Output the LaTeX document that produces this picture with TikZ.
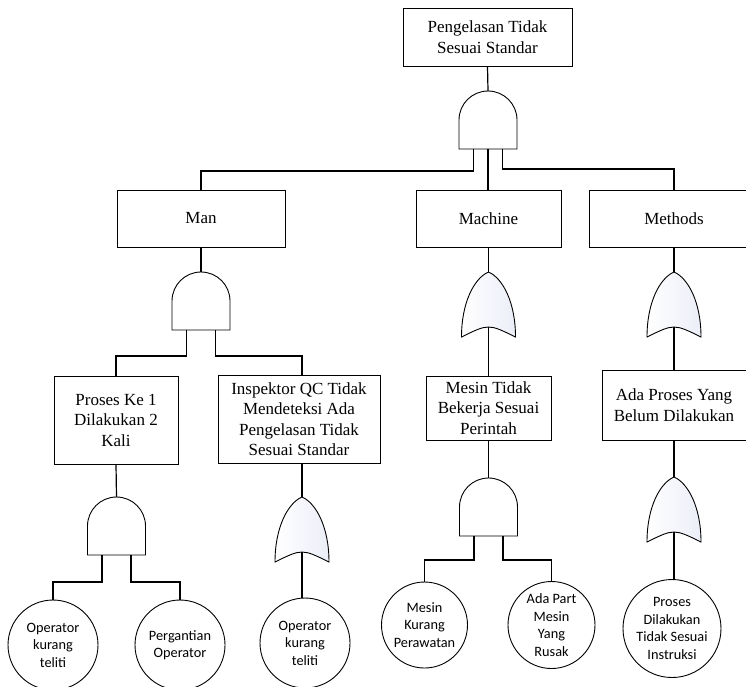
\documentclass[tikz,border=0pt]{standalone}
\usepackage{fontspec}
\setmainfont{Liberation Serif}
\newfontfamily\circfont{Carlito}
\definecolor{gatetint}{RGB}{236,238,248}
\tikzset{
  box/.style={draw, line width=0.9pt, align=center, inner sep=0pt, fill=white,
    font=\fontsize{17}{20.5}\selectfont},
  evt/.style={draw, circle, line width=0.9pt, align=center, inner sep=0pt, fill=white,
    font=\circfont\fontsize{14.3}{17.5}\selectfont},
  wire/.style={line width=1.2pt},
  gateline/.style={line width=0.9pt}
}
\newcommand\AndGate[3]{%
  \begin{scope}[shift={(#2,#3)}]
    \draw[gateline, fill=white] (-29,58) -- (-29,29)
      arc[start angle=180, end angle=360, radius=29pt] -- (29,58) -- cycle;
    \coordinate (#1-t) at (0,0);
    \coordinate (#1-l) at (-14.5,58);
    \coordinate (#1-r) at (14.5,58);
    \coordinate (#1-c) at (0,58);
  \end{scope}}
\newcommand\OrGate[3]{%
  \begin{scope}[shift={(#2,#3)}]
    \draw[gateline, left color=white, right color=gatetint]
      (-27,65) .. controls (-27,30) and (-14,6) .. (0,0)
      .. controls (14,6) and (27,30) .. (27,65)
      .. controls (0,51.7) .. cycle;
    \coordinate (#1-t) at (0,0);
    \coordinate (#1-b) at (0,55);
  \end{scope}}
\begin{document}
\begin{tikzpicture}[x=1pt, y=1pt, yscale=-1]
\useasboundingbox (0,0) rectangle (746,686);
\clip (0,0) rectangle (746,686);

% boxes
\node[box, minimum width=169pt, minimum height=58pt] (top) at (487.5,37) {Pengelasan Tidak\\Sesuai Standar};
\node[box, minimum width=168pt, minimum height=57pt] (man) at (201,218.5) {Man};
\node[box, minimum width=145pt, minimum height=57pt] (machine) at (488.5,218.5) {Machine};
\node[box, minimum width=170pt, minimum height=57pt] (methods) at (674,218.5) {Methods};
\node[box, minimum width=124pt, minimum height=88pt] (proses) at (116,420) {Proses Ke 1\\Dilakukan 2\\Kali};
\node[box, minimum width=162pt, minimum height=88pt] (inspektor) at (299,419) {Inspektor QC Tidak\\Mendeteksi Ada\\Pengelasan Tidak\\Sesuai Standar};
\node[box, minimum width=125pt, minimum height=64pt] (mesin) at (488.5,408) {Mesin Tidak\\Bekerja Sesuai\\Perintah};
\node[box, minimum width=144pt, minimum height=70pt] (ada) at (674,405) {Ada Proses Yang\\Belum Dilakukan};

% basic events
\node[evt, minimum size=90pt] (c1) at (53,645) {Operator\\kurang\\teliti};
\node[evt, minimum size=90pt] (c2) at (180,645) {Pergantian\\Operator};
\node[evt, minimum size=90pt] (c3) at (305,643) {Operator\\kurang\\teliti};
\node[evt, minimum size=86pt] (c4) at (424.5,625) {Mesin\\Kurang\\Perawatan};
\node[evt, minimum size=87pt] (c5) at (551.5,625) {Ada Part\\Mesin\\Yang\\Rusak};
\node[evt, minimum size=98pt] (c6) at (672,628.5) {Proses\\Dilakukan\\Tidak Sesuai\\Instruksi};

% gates
\AndGate{g0}{488}{91}
\AndGate{gman}{201}{272}
\OrGate{gmach}{488.5}{272}
\OrGate{gmeth}{674}{272}
\AndGate{gpro}{116.5}{497}
\OrGate{gins}{302}{497}
\AndGate{gmes}{488.5}{478}
\OrGate{gada}{674}{477}

% connectors
\draw[wire] (top.south) -- (g0-t);
\draw[wire] (g0-l) -- ++(0,22) -| (man.north);
\draw[wire] (g0-c) -- (g0-c |- machine.north);
\draw[wire] (g0-r) -- ++(0,20) -| (methods.north);

\draw[wire] (man.south) -- (gman-t);
\draw[wire] (gman-l) -- ++(0,26) -| (proses.north);
\draw[wire] (gman-r) -- ++(0,26) -| (inspektor.north -| gins-t);

\draw[wire] (machine.south) -- (gmach-t);
\draw[wire] (gmach-b) -- (gmach-b |- mesin.north);
\draw[wire] (methods.south) -- (gmeth-t);
\draw[wire] (gmeth-b) -- (gmeth-b |- ada.north);

\draw[wire] (proses.south) -- (gpro-t);
\draw[wire] (gpro-l) -- ++(0,27) -| (c1.north);
\draw[wire] (gpro-r) -- ++(0,27) -| (c2.north);

\draw[wire] (inspektor.south -| gins-t) -- (gins-t);
\draw[wire] (gins-b) -- (gins-b |- c3.north);

\draw[wire] (mesin.south) -- (gmes-t);
\draw[wire] (gmes-l) -- ++(0,24) -| (c4.north);
\draw[wire] (gmes-r) -- ++(0,24) -| (c5.north);

\draw[wire] (ada.south) -- (gada-t);
\draw[wire] (gada-b) -- (gada-b |- c6.north);
\end{tikzpicture}
\end{document}
